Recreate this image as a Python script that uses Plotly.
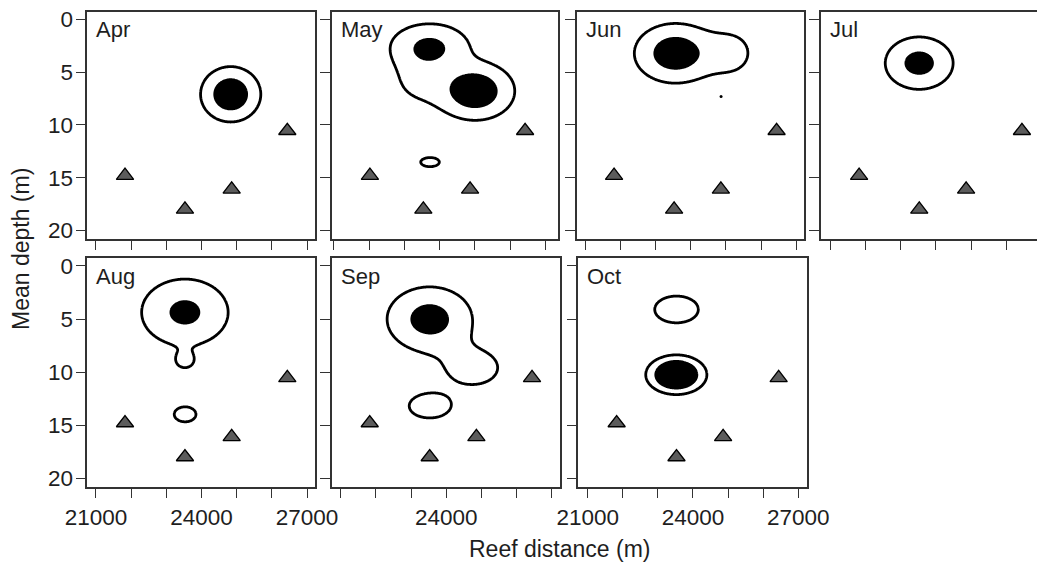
import numpy as np
import plotly.graph_objects as go

# page is drawn with an 8 px body margin, so the figure is sized to fill the rest
OFF = 8
W, H = 1045 - OFF, 562 - OFF

months = ['Apr', 'May', 'Jun', 'Jul', 'Aug', 'Sep', 'Oct']

# Station markers (reef distance in m, mean depth in m)
station_x = [21825, 23530, 24858, 26440]
station_x_may = [22020, 23537, 24864, 26426]
station_depth = [14.8, 18.0, 16.1, 10.55]

# Density surface components (centre, spread, peak)
blob_month = ['Apr', 'May', 'May', 'May', 'May', 'Jun', 'Jun', 'Jul',
              'Aug', 'Aug', 'Aug', 'Sep', 'Sep', 'Sep', 'Oct', 'Oct']
blob_x = [24830, 23719, 25014, 23450, 23727, 23565, 25150, 23528,
          23528, 23528, 23534, 23528, 24760, 23528, 23531, 23525]
blob_depth = [7.1, 2.6, 6.8, 5.8, 13.52, 3.22, 3.2, 4.15,
              4.37, 9.0, 13.98, 5.01, 9.6, 13.2, 4.1, 10.25]
blob_sx = [490, 700, 640, 600, 224, 680, 500, 597,
           785, 272, 262, 740, 720, 490, 527, 435]
blob_sy = [1.5, 1.4, 1.58, 1.7, 0.365, 1.65, 1.6, 1.54,
           2.0, 0.75, 0.60, 1.86, 1.6, 0.95, 1.07, 0.935]
blob_peak = [4.6, 3.3, 4.6, 1.35, 2.0, 4.33, 1.5, 3.66,
             3.41, 1.2, 2.0, 3.79, 1.6, 2.0, 2.0, 7.4]
contour_levels = [1.0, 3.0]  # outer outline, filled core

# tiny core spot in June
spot_month = ['Jun']
spot_x = [24864]
spot_depth = [7.32]

x_ticks = [21000, 22000, 23000, 24000, 25000, 26000, 27000]
x_tick_text_full = ['21000', '', '', '24000', '', '', '27000']
x_tick_text_mid = ['', '', '', '24000', '', '', '']
y_ticks = [0, 5, 10, 15, 20]

# ---- panel geometry (page pixels) ----
panel_box = {
    'Apr': (87.3, 11.7, 315.3, 239.0),
    'May': (331.7, 11.7, 558.3, 239.0),
    'Jun': (576.7, 11.7, 804.3, 239.0),
    'Jul': (821.0, 11.7, 1045.0, 239.0),
    'Aug': (87.3, 258.3, 315.3, 486.7),
    'Sep': (331.7, 258.3, 560.3, 486.7),
    'Oct': (578.3, 258.3, 806.7, 486.7),
}
panel_xrange = {
    'Apr': (20753, 27236), 'May': (20935, 27369), 'Jun': (20764, 27227),
    'Jul': (20745, 27094), 'Aug': (20753, 27236), 'Sep': (20744, 27244),
    'Oct': (20733, 27239),
}
yrange = [20.8, -0.72]


def px(x):
    return (x - OFF) / W


def py(y):
    return 1 - (y - OFF) / H


FONT = 'Liberation Sans, Arial, sans-serif'
AX = '#333333'
TXT = '#1e1e1e'

fig = go.Figure()
layout = dict(
    width=W, height=H, margin=dict(l=0, r=0, t=0, b=0, autoexpand=False),
    paper_bgcolor='white', plot_bgcolor='white', showlegend=False,
    font=dict(family=FONT, size=22, color=TXT),
)
annotations = []

for i, m in enumerate(months, start=1):
    sfx = '' if i == 1 else str(i)
    x0, y0, x1, y1 = panel_box[m]
    xr = panel_xrange[m]

    gx = np.linspace(xr[0], xr[1], 300)
    gy = np.linspace(-0.72, 20.8, 300)
    GX, GY = np.meshgrid(gx, gy)
    Z = np.zeros_like(GX)
    for bm, bx, by, sx, sy, pk in zip(blob_month, blob_x, blob_depth,
                                       blob_sx, blob_sy, blob_peak):
        if bm == m:
            Z += pk * np.exp(-0.5 * (((GX - bx) / sx) ** 2 + ((GY - by) / sy) ** 2))

    fig.add_trace(go.Contour(
        x=gx, y=gy, z=Z, xaxis='x' + sfx, yaxis='y' + sfx,
        autocontour=False,
        contours=dict(start=contour_levels[0], end=contour_levels[1],
                      size=contour_levels[1] - contour_levels[0], coloring='fill'),
        colorscale=[[0, 'rgba(255,255,255,0)'], [0.6, 'rgba(255,255,255,0)'],
                    [0.9, 'black'], [1, 'black']],
        line=dict(color='black', width=2.8, smoothing=1),
        showscale=False, hoverinfo='skip'))

    sxs = [sx for sm, sx in zip(spot_month, spot_x) if sm == m]
    sys_ = [sd for sm, sd in zip(spot_month, spot_depth) if sm == m]
    if sxs:
        fig.add_trace(go.Scatter(x=sxs, y=sys_, mode='markers', xaxis='x' + sfx,
                                 yaxis='y' + sfx, marker=dict(size=3, color='black'),
                                 hoverinfo='skip'))

    stx = station_x_may if m == 'May' else station_x
    fig.add_trace(go.Scatter(
        x=stx, y=station_depth, mode='markers', xaxis='x' + sfx, yaxis='y' + sfx,
        marker=dict(symbol='triangle-up', size=15, color='#5c5c5c',
                    line=dict(color='black', width=1.3)),
        hoverinfo='skip', cliponaxis=False))

    bottom_row = m in ('Aug', 'Sep', 'Oct')
    ttext = x_tick_text_mid if m == 'Sep' else x_tick_text_full
    layout['xaxis' + sfx] = dict(
        domain=[px(x0), min(1.0, px(x1))], range=list(xr), anchor='y' + sfx,
        showline=True, linecolor=AX, linewidth=1.6, mirror=True,
        ticks='outside', ticklen=9, tickwidth=1.4, tickcolor=AX,
        tickvals=x_ticks, ticktext=ttext, showticklabels=bottom_row,
        ticklabeloverflow='allow',
        tickfont=dict(size=22.5, color=TXT, family=FONT), automargin=False,
        showgrid=False, zeroline=False, fixedrange=True)
    layout['yaxis' + sfx] = dict(
        domain=[py(y1), py(y0)], range=yrange, anchor='x' + sfx,
        showline=True, linecolor=AX, linewidth=1.6, mirror=(m != 'Jul'),
        ticks='outside', ticklen=10, tickwidth=1.4, tickcolor=AX,
        tickvals=y_ticks, showticklabels=(m in ('Apr', 'Aug')),
        ticklabelstandoff=-2, ticklabeloverflow='allow',
        tickfont=dict(size=22.5, color=TXT, family=FONT), automargin=False,
        showgrid=False, zeroline=False, fixedrange=True)

    annotations.append(dict(
        text=m, xref='paper', yref='paper', x=px(x0 + 7), y=py(y0 + 18),
        xanchor='left', yanchor='middle', showarrow=False,
        font=dict(size=22, color=TXT, family=FONT)))

annotations.append(dict(
    text='Mean depth (m)', xref='paper', yref='paper', x=px(21), y=py(249),
    xanchor='center', yanchor='middle', textangle=-90, showarrow=False,
    font=dict(size=23, color=TXT, family=FONT)))
annotations.append(dict(
    text='Reef distance (m)', xref='paper', yref='paper', x=px(560), y=py(549),
    xanchor='center', yanchor='middle', showarrow=False,
    font=dict(size=23, color=TXT, family=FONT)))

layout['annotations'] = annotations
fig.update_layout(**layout)
fig.write_html('out.html')
